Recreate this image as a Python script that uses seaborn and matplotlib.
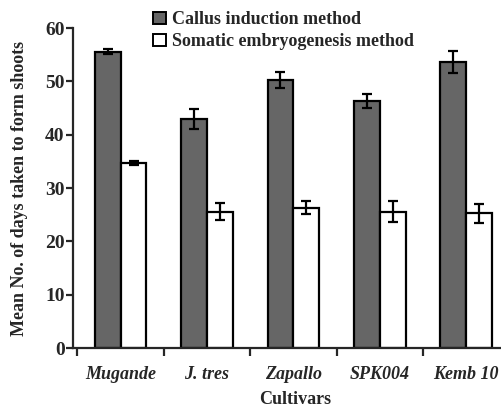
import pandas as pd
import seaborn as sns
import matplotlib.pyplot as plt
from matplotlib.patches import Patch

cultivars = ["Mugande", "J. tres", "Zapallo", "SPK004", "Kemb 10"]
methods = ["Callus induction method", "Somatic embryogenesis method"]
callus_mean = [55.6, 43.0, 50.2, 46.4, 53.7]
callus_err = [0.5, 1.9, 1.5, 1.3, 2.1]
somatic_mean = [34.7, 25.6, 26.3, 25.6, 25.3]
somatic_err = [0.4, 1.6, 1.2, 1.9, 1.8]

df = pd.DataFrame({
    "cultivar": cultivars * 2,
    "method": [methods[0]] * 5 + [methods[1]] * 5,
    "days": callus_mean + somatic_mean,
    "err": callus_err + somatic_err,
})

sns.set_style("ticks")
plt.rcParams['font.family'] = ['Liberation Serif', 'DejaVu Serif']
plt.rcParams['font.weight'] = 'bold'

fig = plt.figure(figsize=(5.02, 4.08), dpi=100)
ax = fig.add_axes([0.1454, 0.147, 0.887, 0.784])

sns.barplot(data=df, x="cultivar", y="days", hue="method", order=cultivars,
            hue_order=methods, palette=["#666666", "#ffffff"], width=0.6,
            errorbar=None, edgecolor="black", linewidth=1.6, ax=ax, legend=False)

# error bars on top of each bar
for patch, (_, row) in zip(ax.patches, df.iterrows()):
    xc = patch.get_x() + patch.get_width() / 2
    ax.errorbar(xc, patch.get_height(), yerr=row["err"], fmt="none",
                ecolor="black", elinewidth=1.6, capsize=3.5, capthick=1.6)

ax.set_xlim(-0.55, 4.6)
ax.set_ylim(0, 60)
ax.set_yticks([0, 10, 20, 30, 40, 50, 60])
ax.set_xticks(range(5))
ax.set_xticklabels(cultivars, fontstyle="italic", fontweight="bold", fontsize=13)
ax.tick_params(axis="x", length=0, pad=13)
ax.set_xticks([i - 0.5 for i in range(6)], minor=True)
ax.tick_params(axis="x", which="minor", length=6, width=1.6, direction="out")
ax.tick_params(axis="y", length=5, width=1.6, labelsize=14, pad=1)
for lbl in ax.get_yticklabels():
    lbl.set_fontweight("bold")

sns.despine(ax=ax)
ax.spines["left"].set_linewidth(1.6)
ax.spines["bottom"].set_linewidth(1.6)

ax.set_xlabel("Cultivars", fontsize=13, fontweight="bold", labelpad=6)
ax.set_ylabel("Mean No. of days taken to form shoots", fontsize=13,
              fontweight="bold", labelpad=12)

handles = [Patch(facecolor="#666666", edgecolor="black", linewidth=1.4),
           Patch(facecolor="#ffffff", edgecolor="black", linewidth=1.4)]
fig.legend(handles, methods, loc="upper left", bbox_to_anchor=(0.291, 0.99),
           frameon=False, fontsize=13, handlelength=0.7, handleheight=0.7,
           handletextpad=0.35, labelspacing=0.28, borderaxespad=0)

fig.savefig("out.png", dpi=100)
